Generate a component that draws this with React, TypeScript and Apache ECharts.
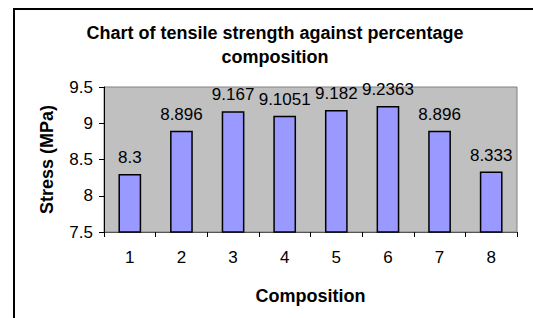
import React, { useEffect, useRef } from "react";
import * as echarts from "echarts";

const categories = ["1", "2", "3", "4", "5", "6", "7", "8"];
const stressValues = [8.3, 8.896, 9.167, 9.1051, 9.182, 9.2363, 8.896, 8.333];
const valueLabels = ["8.3", "8.896", "9.167", "9.1051", "9.182", "9.2363", "8.896", "8.333"];
const yMin = 7.5;
const yMax = 9.5;
const yInterval = 0.5;

const FONT = "Liberation Sans, Arial, sans-serif";

export default function App() {
  const ref = useRef<HTMLDivElement>(null);
  useEffect(() => {
    if (!ref.current) return;
    const chart = echarts.init(ref.current, null, { renderer: "svg" });
    chart.setOption({
      animation: false,
      backgroundColor: "#ffffff",
      title: {
        text: "Chart of tensile strength against percentage\ncomposition",
        left: 270,
        top: 16,
        textAlign: "center",
        textStyle: {
          fontFamily: FONT,
          fontSize: 18,
          fontWeight: "bold",
          color: "#000",
          lineHeight: 24,
        },
      },
      graphic: [
        {
          type: "rect",
          shape: { x: 14, y: 9, width: 700, height: 500 },
          style: { fill: "none", stroke: "#000", lineWidth: 2 },
          silent: true,
          z: 100,
        },
      ],
      grid: {
        left: 104,
        right: 16,
        top: 87,
        bottom: 86,
        show: true,
        backgroundColor: "#C0C0C0",
        borderColor: "#808080",
        borderWidth: 1,
      },
      xAxis: {
        type: "category",
        data: categories,
        name: "Composition",
        nameLocation: "middle",
        nameGap: 55,
        nameTextStyle: { fontFamily: FONT, fontSize: 18, fontWeight: "bold", color: "#000" },
        axisLine: { show: true, lineStyle: { color: "#555", width: 1 } },
        axisTick: { show: true, length: 5, lineStyle: { color: "#000" } },
        axisLabel: { fontFamily: FONT, fontSize: 17, color: "#000", margin: 17 },
        splitLine: { show: false },
      },
      yAxis: {
        type: "value",
        min: yMin,
        max: yMax,
        interval: yInterval,
        name: "Stress (MPa)",
        nameLocation: "middle",
        nameGap: 48,
        nameTextStyle: { fontFamily: FONT, fontSize: 18, fontWeight: "bold", color: "#000" },
        axisLine: { show: true, lineStyle: { color: "#000", width: 1 } },
        axisTick: { show: true, length: 5, lineStyle: { color: "#000" } },
        axisLabel: { fontFamily: FONT, fontSize: 17, color: "#000", margin: 11 },
        splitLine: { show: false },
      },
      series: [
        {
          type: "bar",
          data: stressValues,
          barWidth: "44%",
          itemStyle: { color: "#9999FF", borderColor: "#000", borderWidth: 1.5 },
          label: {
            show: true,
            position: "top",
            distance: 8,
            fontFamily: FONT,
            fontSize: 17,
            color: "#000",
            formatter: (p: any) => valueLabels[p.dataIndex],
          },
        },
      ],
    });
    return () => chart.dispose();
  }, []);
  return (
    <div
      ref={ref}
      style={{ position: "absolute", left: 0, top: 0, width: 533, height: 318 }}
    />
  );
}
